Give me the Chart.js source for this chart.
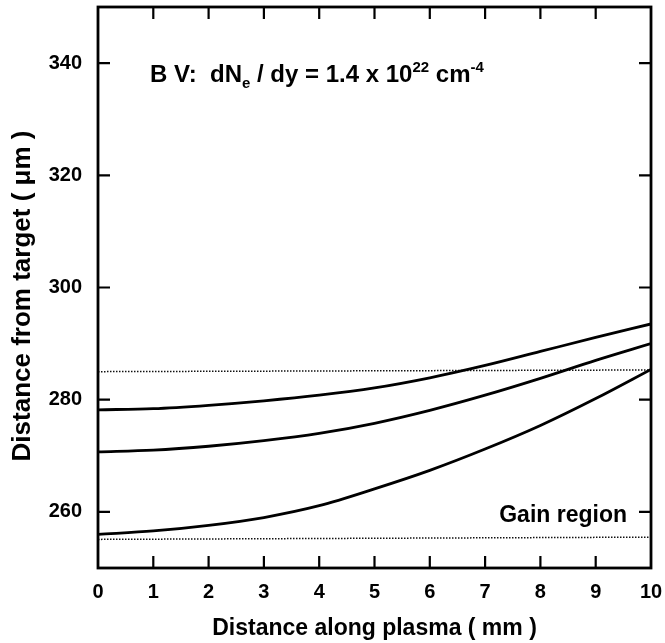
<!DOCTYPE html>
<html>
<head>
<meta charset="utf-8">
<script src="https://cdn.jsdelivr.net/npm/chart.js@4/dist/chart.umd.min.js"></script>
<style>
    html, body { margin: 0; padding: 0; background: #fff; }
    #wrap { width: 665px; height: 643px; }
</style>
</head>
<body>
<div id="wrap"><canvas id="plasmaChart" width="665" height="643"></canvas></div>
<script>
// ================= DATA =================
const xMm = [0, 1, 2, 3, 4, 5, 6, 7, 8, 9, 10];
const upperCurve = [278.2, 278.4, 279.0, 279.8, 280.8, 282.1, 283.9, 286.1, 288.6, 291.1, 293.5];
const middleCurve = [270.7, 271.0, 271.7, 272.7, 274.0, 275.8, 278.1, 280.8, 283.8, 287.0, 290.0];
const lowerCurve = [256.0, 256.6, 257.6, 259.0, 261.1, 264.1, 267.4, 271.2, 275.4, 280.2, 285.4];

// dotted edges of the gain region
const gainX = [0, 10];
const gainTop = [285.0, 285.3];
const gainBottom = [255.1, 255.5];

const xTicks = [0, 1, 2, 3, 4, 5, 6, 7, 8, 9, 10];
const yTicks = [260, 280, 300, 320, 340];

const FONT = "'Liberation Sans', Arial, Helvetica, sans-serif";

const toPoints = (xs, ys) => xs.map((x, i) => ({ x: x, y: ys[i] }));

function solid(values) {
    return {
        data: toPoints(xMm, values),
        borderColor: "#000",
        borderWidth: 2.8,
        pointRadius: 0,
        cubicInterpolationMode: "monotone",
        fill: false
    };
}

function dotted(values) {
    return {
        data: toPoints(gainX, values),
        borderColor: "#111",
        borderWidth: 1.5,
        borderDash: [1.5, 1.5],
        pointRadius: 0,
        fill: false
    };
}

// no extra room for edge labels, the frame is placed by hand
function noPad(s) {
    s.paddingTop = 0;
    s.paddingBottom = 0;
    s.paddingLeft = 0;
    s.paddingRight = 0;
}

// frame, inward ticks and the text
const framePlugin = {
    id: "frame",
    afterDraw(chart) {
        const { ctx, chartArea: a, scales: { x, y } } = chart;
        ctx.save();
        ctx.strokeStyle = "#000";
        ctx.lineWidth = 2.8;
        ctx.strokeRect(a.left, a.top, a.right - a.left, a.bottom - a.top);

        ctx.beginPath();
        xTicks.slice(1, -1).forEach(v => {
            const px = x.getPixelForValue(v);
            ctx.moveTo(px, a.bottom);
            ctx.lineTo(px, a.bottom - 12);
            ctx.moveTo(px, a.top);
            ctx.lineTo(px, a.top + 12);
        });
        yTicks.forEach(v => {
            const py = y.getPixelForValue(v);
            ctx.moveTo(a.left, py);
            ctx.lineTo(a.left + 12, py);
            ctx.moveTo(a.right, py);
            ctx.lineTo(a.right - 12, py);
        });
        ctx.lineWidth = 2.2;
        ctx.stroke();

        // title inside the plot
        ctx.fillStyle = "#000";
        ctx.textBaseline = "alphabetic";
        ctx.textAlign = "left";
        const big = "bold 24px " + FONT;
        const small = "bold 15px " + FONT;
        let cx = 150;
        const base = 82;
        const piece = (text, font, dy) => {
            ctx.font = font;
            ctx.fillText(text, cx, base + dy);
            cx += ctx.measureText(text).width;
        };
        piece("B V:  dN", big, 0);
        piece("e", small, 6);
        piece(" / dy = 1.4 x 10", big, 0);
        piece("22", small, -10);
        piece(" cm", big, 0);
        piece("-4", small, -10);

        ctx.font = "bold 23px " + FONT;
        ctx.textAlign = "right";
        ctx.fillText("Gain region", 627, 522);

        // y axis title, sits a little below the plot centre
        ctx.translate(23, 296);
        ctx.rotate(-Math.PI / 2);
        ctx.font = "bold 26px " + FONT;
        ctx.textAlign = "center";
        ctx.textBaseline = "middle";
        ctx.fillText("Distance from target ( μm )", 0, 0);
        ctx.restore();
    }
};

new Chart(document.getElementById("plasmaChart"), {
    type: "line",
    data: {
        datasets: [
            solid(upperCurve),
            solid(middleCurve),
            solid(lowerCurve),
            dotted(gainTop),
            dotted(gainBottom)
        ]
    },
    options: {
        responsive: false,
        animation: false,
        layout: { padding: { top: 7, right: 14, bottom: 0, left: 0 } },
        plugins: {
            legend: { display: false },
            tooltip: { enabled: false }
        },
        scales: {
            x: {
                type: "linear",
                min: 0,
                max: 10,
                afterBuildTicks: s => { s.ticks = xTicks.map(v => ({ value: v })); },
                afterFit: s => { s.height = 75; noPad(s); },
                grid: { display: false, drawTicks: false },
                border: { display: false },
                ticks: {
                    color: "#000",
                    padding: 12,
                    maxRotation: 0,
                    font: { family: FONT, size: 20, weight: "bold" }
                },
                title: {
                    display: true,
                    text: "Distance along plasma ( mm )",
                    color: "#000",
                    padding: { top: 0, bottom: 1 },
                    font: { family: FONT, size: 23, weight: "bold" }
                }
            },
            y: {
                min: 250,
                max: 350,
                afterBuildTicks: s => { s.ticks = yTicks.map(v => ({ value: v })); },
                afterFit: s => { s.width = 98; noPad(s); },
                grid: { display: false, drawTicks: false },
                border: { display: false },
                ticks: {
                    color: "#000",
                    padding: 16,
                    font: { family: FONT, size: 20, weight: "bold" }
                }
            }
        }
    },
    plugins: [framePlugin]
});
</script>
</body>
</html>
